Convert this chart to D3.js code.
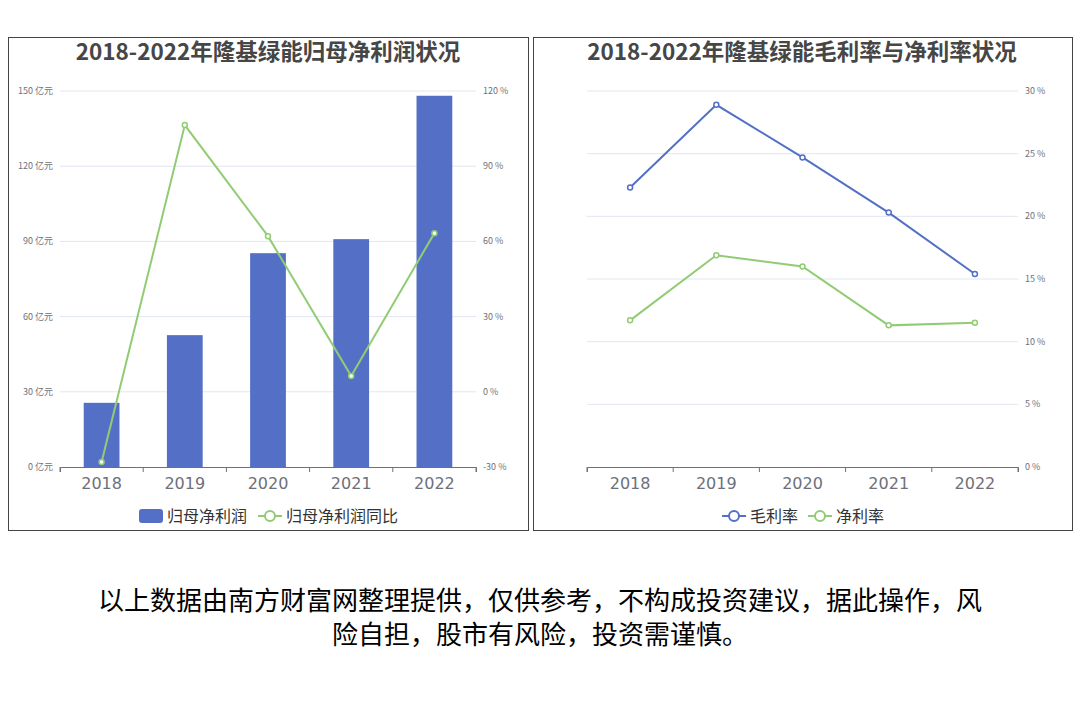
<!DOCTYPE html><html><head><meta charset="utf-8"><script src="https://cdn.jsdelivr.net/npm/d3@7"></script>
<style>body{margin:0;background:#fff;font-family:"Noto Sans CJK SC","Noto Sans",sans-serif}</style></head><body><svg id="c" width="1080" height="720"></svg>
<script>
const years=["2018","2019","2020","2021","2022"];
const netProfit=[25.6,52.6,85.3,90.9,148.1];
const netProfitYoY=[-28.0,106.4,62.1,6.3,63.3];
const grossMargin=[22.3,28.9,24.7,20.3,15.4];
const netMargin=[11.7,16.9,16.0,11.3,11.5];
const leftTicks=[0,30,60,90,120,150];
const yoyTicks=[-30,0,30,60,90,120];
const pctTicks=[0,5,10,15,20,25,30];
const blue="#5470c6",green="#91cc75";
const svg=d3.select("#c");
const F='"Noto Sans CJK SC",sans-serif';
svg.append("rect").attr("x",8.5).attr("y",37.5).attr("width",520).attr("height",493).attr("fill","none").attr("stroke","#444");
svg.append("rect").attr("x",533.5).attr("y",37.5).attr("width",539).attr("height",493).attr("fill","none").attr("stroke","#444");
function title(x,t){svg.append("text").attr("x",x).attr("y",60).attr("text-anchor","middle").attr("font-size",22.5).attr("font-weight","bold").attr("font-family",F).attr("fill","#464646").text(t);}
title(268,"2018-2022年隆基绿能归母净利润状况");
title(802,"2018-2022年隆基绿能毛利率与净利率状况");
const yTop=91,yBot=467;
function xaxis(x0,x1){
 const x=d3.scaleBand().domain(years).range([x0,x1]);
 const g=svg.append("g").attr("transform",`translate(0,${yBot})`).call(d3.axisBottom(x).tickSize(5).tickPadding(6));
 g.select(".domain").attr("stroke","#6e7079");g.selectAll(".tick line").remove();
 x.domain().concat(["_"]).forEach((d,i)=>g.append("line").attr("x1",x0+i*x.step()).attr("x2",x0+i*x.step()).attr("y1",0).attr("y2",5).attr("stroke","#6e7079"));
 g.selectAll("text").attr("font-size",16).attr("fill","#6e7079").attr("font-family","DejaVu Sans");
 return x;}
function grid(y,ticks,x0,x1){ticks.forEach(t=>svg.append("line").attr("x1",x0).attr("x2",x1).attr("y1",y(t)).attr("y2",y(t)).attr("stroke","#e0e6f1"));}
function ylab(y,ticks,xx,anchor,fmt){ticks.forEach(t=>svg.append("text").attr("x",xx).attr("y",y(t)+3).attr("text-anchor",anchor).attr("font-size",9).attr("fill","#6e7079").attr("font-family",F).text(fmt(t)));}
const yL=d3.scaleLinear().domain([0,150]).range([yBot,yTop]);
const yR=d3.scaleLinear().domain([-30,120]).range([yBot,yTop]);
grid(yL,leftTicks.slice(1),60,476);
ylab(yL,leftTicks,53,"end",t=>t+" 亿元");
ylab(yR,yoyTicks,483,"start",t=>t+" %");
const x1=xaxis(60,476);
svg.selectAll(".bar").data(netProfit).enter().append("rect").attr("x",(d,i)=>x1(years[i])+x1.bandwidth()*0.285).attr("width",x1.bandwidth()*0.43).attr("y",d=>yL(d)).attr("height",d=>yBot-yL(d)).attr("fill",blue);
function line(vals,x,y,c){
 svg.append("path").datum(vals).attr("d",d3.line().x((d,i)=>x(years[i])+x.bandwidth()/2).y(d=>y(d))).attr("fill","none").attr("stroke",c).attr("stroke-width",2);
 svg.append("g").selectAll("circle").data(vals).enter().append("circle").attr("cx",(d,i)=>x(years[i])+x.bandwidth()/2).attr("cy",d=>y(d)).attr("r",2.5).attr("fill","#fff").attr("stroke",c).attr("stroke-width",1.5);}
line(netProfitYoY,x1,yR,green);
const yP=d3.scaleLinear().domain([0,30]).range([yBot,yTop]);
grid(yP,pctTicks.slice(1),587,1018);
ylab(yP,pctTicks,1025,"start",t=>t+" %");
const x2=xaxis(587,1018);
line(grossMargin,x2,yP,blue);
line(netMargin,x2,yP,green);
function legItem(x,type,c,label){
 if(type==="bar")svg.append("rect").attr("x",x).attr("y",509).attr("width",24).attr("height",14).attr("rx",3).attr("fill",c);
 else{svg.append("line").attr("x1",x).attr("x2",x+24).attr("y1",516).attr("y2",516).attr("stroke",c).attr("stroke-width",2);svg.append("circle").attr("cx",x+12).attr("cy",516).attr("r",5).attr("fill","#fff").attr("stroke",c).attr("stroke-width",2);}
 svg.append("text").attr("x",x+28).attr("y",522).attr("font-size",16).attr("font-family",F).attr("fill","#333").text(label);}
legItem(139,"bar",blue,"归母净利润");
legItem(258,"line",green,"归母净利润同比");
legItem(722,"line",blue,"毛利率");
legItem(808,"line",green,"净利率");
const foot=["以上数据由南方财富网整理提供，仅供参考，不构成投资建议，据此操作，风","险自担，股市有风险，投资需谨慎。"];
foot.forEach((t,i)=>svg.append("text").attr("x",540).attr("y",610+i*34).attr("text-anchor","middle").attr("font-size",26).attr("font-family",F).attr("fill","#000").text(t));
</script></body></html>
